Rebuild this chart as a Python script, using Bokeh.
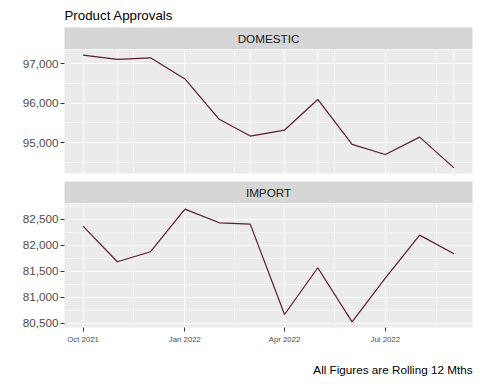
from datetime import datetime
from bokeh.plotting import figure
from bokeh.layouts import column
from bokeh.models import (FixedTicker, NumeralTickFormatter, DatetimeTickFormatter,
                          Label, Title, Grid, DataRange1d, ColumnDataSource)
from bokeh.embed import file_html
from bokeh.resources import INLINE

# ---- data ----
months = ["2021-10-01", "2021-11-01", "2021-12-01", "2022-01-01", "2022-02-01", "2022-03-01",
          "2022-04-01", "2022-05-01", "2022-06-01", "2022-07-01", "2022-08-01", "2022-09-01"]
domestic = [97216, 97107, 97148, 96613, 95593, 95168, 95321, 96094, 94957, 94702, 95142, 94364]
imports = [82365, 81681, 81873, 82692, 82429, 82404, 80667, 81565, 80525, 81365, 82192, 81835]

x_major = ["2021-10-01", "2022-01-01", "2022-04-01", "2022-07-01"]
x_minor = ["2021-11-16", "2022-02-15", "2022-05-16", "2022-08-16"]
dom_major = [95000, 96000, 97000]
dom_minor = [94500, 95500, 96500, 97500]
imp_major = [80500, 81000, 81500, 82000, 82500]
imp_minor = [80250, 80750, 81250, 81750, 82250, 82750]

title_text = "Product Approvals"
caption_text = "All Figures are Rolling 12 Mths"
panel_names = ["DOMESTIC", "IMPORT"]

FONT = "Liberation Sans"
PANEL_BG = "#EBEBEB"
STRIP_BG = "#D6D6D6"
LINE_COLOR = "#5C1B2F"
FW, FH = 408, 124
LEFT, RIGHT = 64, 8


def ms(s):
    return datetime.strptime(s, "%Y-%m-%d").timestamp() * 1000.0


dates = [datetime.strptime(m, "%Y-%m-%d") for m in months]
xmaj = [ms(s) for s in x_major]
xmin = [ms(s) for s in x_minor]

x_range = DataRange1d(range_padding=0.1)


def strip(name, top=0, title=None):
    s = figure(frame_width=FW, frame_height=22, min_border_left=LEFT, min_border_right=RIGHT,
               min_border_top=top, min_border_bottom=0, toolbar_location=None,
               output_backend="svg", x_range=(0, 1), y_range=(0, 1),
               x_axis_location=None, y_axis_location=None)
    s.grid.visible = False
    s.background_fill_color = STRIP_BG
    s.border_fill_color = "white"
    s.outline_line_color = None
    s.add_layout(Label(x=0.5, y=0.5, text=name, text_align="center", text_baseline="middle",
                       text_font=FONT, text_font_size="11.7px", text_color="#1A1A1A"))
    if title is not None:
        s.add_layout(Title(text=title, text_font=FONT, text_font_size="13.3px",
                           text_font_style="normal", text_color="black", standoff=9,
                           align="left"), "above")
    return s


def panel(values, ymaj, ymin, show_x, bottom):
    p = figure(frame_width=FW, frame_height=FH, min_border_left=LEFT, min_border_right=RIGHT,
               min_border_top=0, min_border_bottom=bottom, toolbar_location=None,
               output_backend="svg", x_axis_type="datetime", x_range=x_range,
               x_axis_location="below" if show_x else None)
    p.background_fill_color = PANEL_BG
    p.border_fill_color = "white"
    p.outline_line_color = None
    src = ColumnDataSource(dict(x=dates, y=values))
    p.line("x", "y", source=src, line_color=LINE_COLOR, line_width=1.2)

    yt = FixedTicker(ticks=ymaj, minor_ticks=ymin)
    p.yaxis.ticker = yt
    p.yaxis.formatter = NumeralTickFormatter(format="0,0")
    p.yaxis.axis_line_color = None
    p.yaxis.major_tick_line_color = "#333333"
    p.yaxis.major_tick_out = 4
    p.yaxis.major_tick_in = 0
    p.yaxis.minor_tick_line_color = None
    p.yaxis.major_label_text_font = FONT
    p.yaxis.major_label_text_font_size = "11.7px"
    p.yaxis.major_label_text_color = "#4D4D4D"
    p.yaxis.major_label_standoff = 2

    xt = FixedTicker(ticks=xmaj, minor_ticks=xmin)
    if show_x:
        p.xaxis.ticker = xt
        p.xaxis.formatter = DatetimeTickFormatter(days="%b %Y", months="%b %Y", years="%b %Y")
        p.xaxis.axis_line_color = None
        p.xaxis.major_tick_line_color = "#333333"
        p.xaxis.major_tick_out = 4
        p.xaxis.major_tick_in = 0
        p.xaxis.minor_tick_line_color = None
        p.xaxis.major_label_text_font = FONT
        p.xaxis.major_label_text_font_size = "7.8px"
        p.xaxis.major_label_text_color = "#4D4D4D"
        p.xaxis.major_label_standoff = 3
    else:
        p.add_layout(Grid(dimension=0, ticker=xt))

    for g in p.grid:
        g.grid_line_color = "white"
        g.grid_line_width = 1.1
        g.minor_grid_line_color = "white"
        g.minor_grid_line_width = 0.55
    return p


s1 = strip(panel_names[0], top=27, title=title_text)
p1 = panel(domestic, dom_major, dom_minor, show_x=False, bottom=8)
s2 = strip(panel_names[1])
p2 = panel(imports, imp_major, imp_minor, show_x=True, bottom=57)
p2.add_layout(Title(text=caption_text, align="right", text_font=FONT, text_font_size="11.7px",
                    text_font_style="normal", text_color="black", standoff=28), "below")

layout = column(s1, p1, s2, p2, spacing=0)
open("out.html", "w").write(file_html(layout, INLINE))
